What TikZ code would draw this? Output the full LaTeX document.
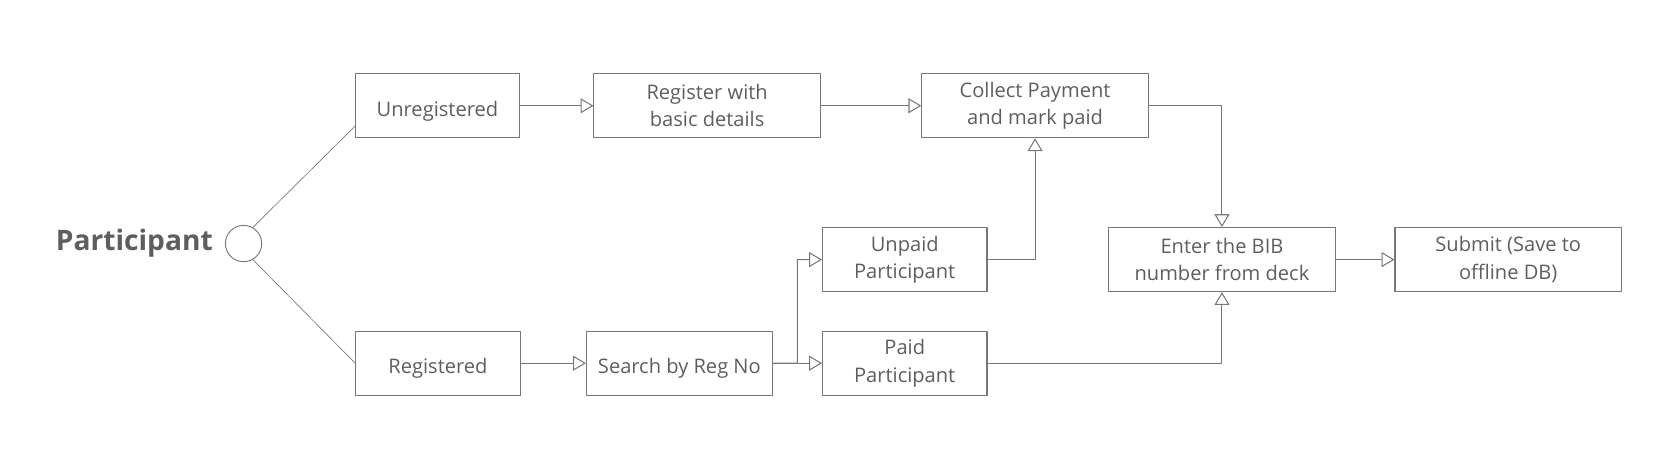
\documentclass[tikz,border=0pt]{standalone}
\usepackage{fontspec}
\setmainfont{Open Sans}
\usepackage{tikz}
\usetikzlibrary{arrows.meta, positioning, calc}

\definecolor{inkgray}{HTML}{5E5E5E}
\definecolor{linegray}{HTML}{777777}

\begin{document}
\begin{tikzpicture}[
    node distance=1cm and 1cm,
    box/.style={rectangle, draw=linegray, line width=0.55pt, minimum height=1.2cm, align=center, text=inkgray, inner sep=2pt, font=\fontsize{10.7}{14.6}\selectfont, execute at begin node={\rule{0pt}{13.5pt}}},
    narrow/.style={box, minimum width=3.08cm},
    wide/.style={box, minimum width=4.24cm},
    hubdot/.style={circle, draw=linegray, line width=0.5pt, minimum size=0.68cm, inner sep=0pt},
    title/.style={inner sep=0pt, text=inkgray, font=\fontsize{15}{18}\selectfont\bfseries},
    arr/.style={-{Triangle[open, length=0.24cm, width=0.28cm]}, draw=linegray, line width=0.55pt},
    spoke/.style={draw=linegray, line width=0.35pt},
]
    \useasboundingbox (-4.56,-4.2) rectangle (26.8,4.56);

    % Participant hub
    \node[hubdot] (hub) {};
    \node[title, left=0.22cm of hub] (who) {Participant};

    % Top row
    \node[narrow, minimum width=3.06cm] (unreg) at (3.63,2.58) {Unregistered};
    \node[wide, right=1.38cm of unreg] (basic) {Register with\\basic details};
    \node[wide, right=1.88cm of basic] (collect) {Collect Payment\\and mark paid};

    % Bottom row
    \node[narrow] (reg) at (3.64,-2.24) {Registered};
    \node[box, minimum width=3.48cm, right=1.22cm of reg] (search) {Search by Reg No};
    \node[narrow, right=0.92cm of search] (paid) {Paid\\Participant};

    % Middle row
    \node[narrow, above=0.72cm of paid] (unpaid) {Unpaid\\Participant};
    \node[wide, right=2.26cm of unpaid] (bib) {Enter the BIB\\number from deck};
    \node[wide, right=1.1cm of bib] (submit) {Submit (Save to\\offline DB)};

    % Spokes
    \draw[spoke] (hub.60) -- ($(unreg.south west)!0.19!(unreg.north west)$);
    \draw[spoke] (hub.-60) -- (reg.west);

    % Arrows
    \draw[arr] (unreg) -- (basic);
    \draw[arr] (basic) -- (collect);
    \draw[arr] (collect) -| (bib);
    \draw[arr] (unpaid) -| (collect);
    \draw[arr] (reg) -- (search);
    \draw[arr] (search) -- (paid);
    \draw[arr] (search.east) -- ($(search.east)!0.5!(paid.west)$) |- (unpaid.west);
    \draw[arr] (paid) -| (bib);
    \draw[arr] (bib) -- (submit);
\end{tikzpicture}
\end{document}
